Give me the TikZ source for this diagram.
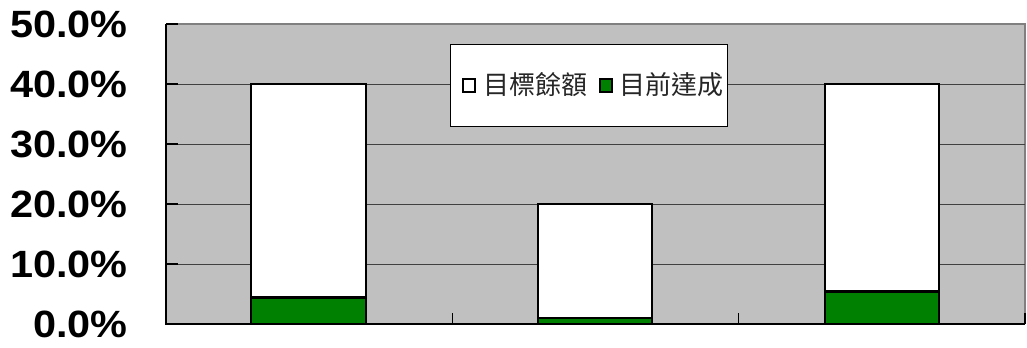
\documentclass[tikz,border=0pt]{standalone}
\usepackage{fontspec}
\setmainfont{Liberation Sans}
\newfontfamily\cjkfont{Noto Sans CJK TC}
\definecolor{plotgray}{HTML}{C0C0C0}
\definecolor{bargreen}{HTML}{008000}
\definecolor{gridgray}{HTML}{404040}
\definecolor{framegray}{HTML}{808080}
\begin{document}
\begin{tikzpicture}[x=0.75pt,y=-0.75pt,
  axislabel/.style={anchor=east,inner sep=0pt,font=\fontsize{28.5pt}{30pt}\selectfont\bfseries,xscale=1.09},
  gridline/.style={draw=gridgray,line width=0.75pt},
  barbox/.style={draw=black,line width=1.6pt},
  ticklines/.style={draw=black,line width=0.9pt},
  legendtext/.style={anchor=west,inner sep=0pt,font=\cjkfont\fontsize{19.5pt}{21pt}\selectfont,text=black!85}
]
\useasboundingbox (0,0) rectangle (1027,347);
% plot area
\fill[plotgray] (166,24) rectangle (1025,324);
\draw[framegray,line width=0.9pt] (166,24) -- (1025,24) -- (1025,324);
% grid lines
\foreach \v in {1,2,3,4}{
  \draw[gridline] (166,{324-60*\v}) -- (1025,{324-60*\v});
}
% axes
\draw[ticklines] (166,24) -- (166,324) -- (1025,324);
\foreach \v in {0,1,2,3,4,5}{
  \draw[ticklines] (166,{324-60*\v}) -- (178,{324-60*\v});
}
\foreach \xx in {166,452.3,738.7,1025}{
  \draw[ticklines] (\xx,324) -- (\xx,313);
}
% axis labels
\foreach \v/\t in {0/0.0\%,1/10.0\%,2/20.0\%,3/30.0\%,4/40.0\%,5/50.0\%}{
  \node[axislabel] (lab\v) at (128,{324.5-60*\v}) {\t};
}
% bars: target remainder (white) and achieved (green)
\filldraw[barbox,fill=white] (251,84) rectangle (366,324);
\filldraw[barbox,fill=bargreen] (251,297.5) rectangle (366,324);
\filldraw[barbox,fill=white] (538,204) rectangle (652,324);
\filldraw[barbox,fill=bargreen] (538,318) rectangle (652,324);
\filldraw[barbox,fill=white] (825,84) rectangle (939,324);
\filldraw[barbox,fill=bargreen] (825,291.5) rectangle (939,324);
% legend
\node[draw=black,line width=0.8pt,fill=white,minimum width=207.75pt,minimum height=61.5pt,inner sep=0pt,anchor=north west] (legend) at (450,44) {};
\filldraw[draw=black,line width=1.5pt,fill=white] (462.5,78.5) rectangle (474.5,91.5);
\node[legendtext] (leg1) at (483,85) {目標餘額};
\filldraw[draw=black,line width=1.5pt,fill=bargreen] (599.5,78.5) rectangle (611.5,91.5);
\node[legendtext] (leg2) at (619.5,85) {目前達成};
\end{tikzpicture}
\end{document}
